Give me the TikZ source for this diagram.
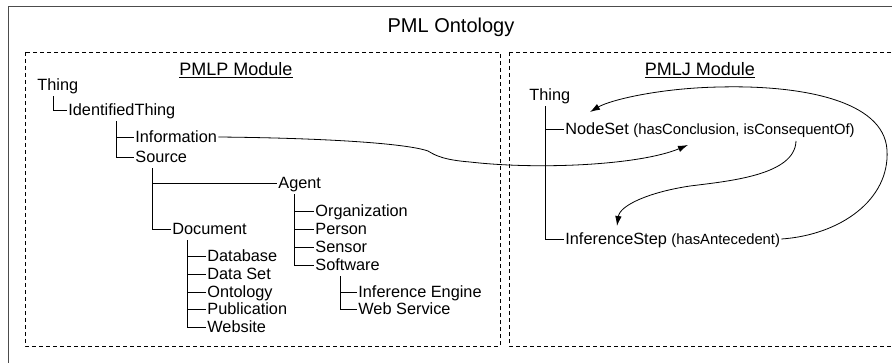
\documentclass[tikz,border=0pt]{standalone}
\usepackage{fontspec}
\setmainfont{Liberation Sans}
\usetikzlibrary{arrows.meta}

\tikzset{
  cls/.style={anchor=west,inner sep=1pt,text height=11.5pt,text depth=0pt,font=\fontsize{16.3}{18}\selectfont},
  modtitle/.style={inner sep=0pt,text height=13pt,text depth=0pt,font=\fontsize{18}{20}\selectfont},
  module/.style={draw,dash pattern=on 4pt off 3pt},
  link/.style={-{Latex[length=10pt,width=6.5pt]}},
}
\newcommand{\propof}[1]{{\fontsize{14.8}{16}\selectfont(#1)}}

\begin{document}
\begin{tikzpicture}[x=1pt,y=-1pt,line width=0.8pt]
\useasboundingbox (0,0) rectangle (892,363);
\draw[black!70] (8,6) rectangle (910,380);
\node[inner sep=0pt,text height=14.5pt,text depth=0pt,font=\fontsize{20}{22}\selectfont] (title) at (451,25) {PML Ontology};

% modules
\draw[module] (25,52) rectangle (500,346);
\draw[module] (509,52) rectangle (910,346);
\node[modtitle] (pmlp) at (236,69.5) {\underline{PMLP Module}};
\node[modtitle] (pmlj) at (700,69.5) {\underline{PMLJ Module}};

% PMLP classes
\node[cls] (thingL) at (36,85) {Thing};
\node[cls] (ident) at (67,110) {IdentifiedThing};
\node[cls] (info) at (134,137) {Information};
\node[cls] (source) at (134,157) {Source};
\node[cls] (agent) at (277,183) {Agent};
\node[cls] (org) at (314,211) {Organization};
\node[cls] (person) at (314,229) {Person};
\node[cls] (sensor) at (314,247) {Sensor};
\node[cls] (software) at (314,265) {Software};
\node[cls] (ieng) at (357,292) {Inference Engine};
\node[cls] (wserv) at (357,309) {Web Service};
\node[cls] (doc) at (171,229) {Document};
\node[cls] (db) at (206,256) {Database};
\node[cls] (dset) at (206,274) {Data Set};
\node[cls] (onto) at (206,292) {Ontology};
\node[cls] (pub) at (206,309) {Publication};
\node[cls] (web) at (206,327) {Website};

\draw ([shift={(17,4)}]thingL.south west) |- (ident.west);
\foreach \c in {info,source}
  \draw ([shift={(49,4)}]ident.south west) |- (\c.west);
\foreach \c in {agent,doc}
  \draw ([shift={(18,4)}]source.south west) |- (\c.west);
\foreach \c in {org,person,sensor,software}
  \draw ([shift={(17,4)}]agent.south west) |- (\c.west);
\foreach \c in {ieng,wserv}
  \draw ([shift={(26,4)}]software.south west) |- (\c.west);
\foreach \c in {db,dset,onto,pub,web}
  \draw ([shift={(16,4)}]doc.south west) |- (\c.west);

% PMLJ classes
\node[cls] (thingR) at (528,95) {Thing};
\node[cls] (nset) at (564,129) {NodeSet \propof{hasConclusion, isConsequentOf}};
\node[cls] (istep) at (564,239) {InferenceStep \propof{hasAntecedent}};

\foreach \c in {nset,istep}
  \draw ([shift={(17,4)}]thingR.south west) |- (\c.west);

% property links
\coordinate (infoTip) at ([shift={(124,16)}]nset.west);
\coordinate (conStart) at ([shift={(232,12)}]nset.west);
\coordinate (conTip) at ([shift={(53,-13)}]istep.west);
\coordinate (antTip) at ([shift={(26,-17)}]nset.west);

\draw[link] (info.east) .. controls (320,138) and (405,143) .. (428,151)
  .. controls (436,156) and (445,160) .. (470,162)
  .. controls (540,170) and (640,165) .. (infoTip);
\draw[link] (conStart) .. controls (795,175) and (730,181) .. (690,186)
  .. controls (650,192) and (620,205) .. (conTip);
\draw[link] (istep.east) .. controls (840,235) and (890,200) .. (887,150)
  .. controls (884,100) and (800,85) .. (720,87)
  .. controls (660,88) and (610,100) .. (antTip);
\end{tikzpicture}
\end{document}
